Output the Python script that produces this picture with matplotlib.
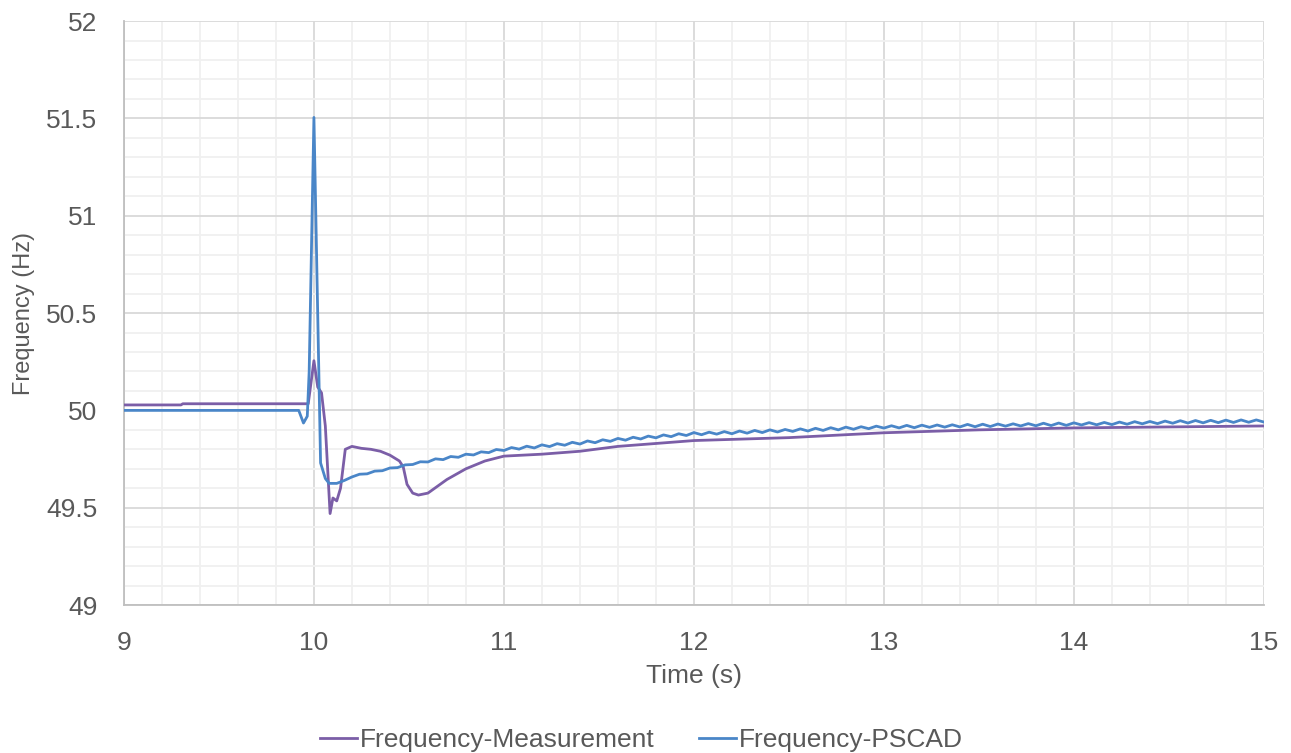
import numpy as np
import matplotlib.pyplot as plt
from matplotlib.ticker import MultipleLocator

plt.rcParams['font.family'] = ['Liberation Sans', 'DejaVu Sans']

# measured frequency (s, Hz)
meas_t = [9.00, 9.30, 9.31, 9.97, 10.00, 10.02, 10.04, 10.06, 10.085, 10.10,
          10.12, 10.14, 10.165, 10.20, 10.25, 10.30, 10.35, 10.40, 10.45, 10.47,
          10.49, 10.52, 10.55, 10.60, 10.65, 10.70, 10.80, 10.90, 11.00, 11.20,
          11.40, 11.60, 11.80, 12.00, 12.50, 13.00, 13.50, 14.00, 14.50, 15.00]
meas_f = [50.028, 50.028, 50.034, 50.034, 50.255, 50.12, 50.09, 49.92, 49.47, 49.55,
          49.535, 49.60, 49.80, 49.815, 49.805, 49.80, 49.79, 49.77, 49.74, 49.71,
          49.62, 49.575, 49.565, 49.575, 49.61, 49.645, 49.70, 49.74, 49.765, 49.775,
          49.79, 49.815, 49.83, 49.845, 49.86, 49.885, 49.90, 49.91, 49.915, 49.92]

# PSCAD simulation, event part
sim_t_event = [9.00, 9.92, 9.945, 9.965, 9.975, 10.00, 10.02, 10.035, 10.06, 10.08,
               10.12, 10.16]
sim_f_event = [50.000, 50.000, 49.935, 49.970, 50.200, 51.505, 50.50, 49.73, 49.65, 49.625,
               49.625, 49.64]

# PSCAD simulation, recovery part sampled every 0.04 s from 10.2 s
sim_t_tail = np.linspace(10.2, 15.0, 121)
sim_f_tail = [
    49.658, 49.672, 49.674, 49.688, 49.690, 49.704, 49.706, 49.720, 49.722, 49.736,
    49.735, 49.751, 49.747, 49.763, 49.759, 49.775, 49.771, 49.787, 49.783, 49.799,
    49.794, 49.809, 49.801, 49.816, 49.807, 49.823, 49.814, 49.829, 49.821, 49.836,
    49.827, 49.843, 49.834, 49.849, 49.841, 49.856, 49.847, 49.862, 49.853, 49.868,
    49.859, 49.874, 49.865, 49.880, 49.871, 49.886, 49.875, 49.888, 49.878, 49.891,
    49.880, 49.894, 49.883, 49.897, 49.886, 49.900, 49.889, 49.902, 49.892, 49.905,
    49.894, 49.908, 49.897, 49.911, 49.900, 49.914, 49.903, 49.916, 49.906, 49.919,
    49.909, 49.921, 49.910, 49.923, 49.911, 49.924, 49.913, 49.925, 49.914, 49.926,
    49.915, 49.928, 49.916, 49.929, 49.917, 49.930, 49.919, 49.931, 49.920, 49.932,
    49.921, 49.934, 49.922, 49.935, 49.923, 49.936, 49.925, 49.937, 49.926, 49.938,
    49.927, 49.940, 49.929, 49.942, 49.931, 49.943, 49.932, 49.945, 49.934, 49.947,
    49.935, 49.948, 49.936, 49.949, 49.937, 49.950, 49.938, 49.951, 49.939, 49.951,
    49.940]

sim_t = np.concatenate([sim_t_event, sim_t_tail])
sim_f = np.concatenate([sim_f_event, sim_f_tail])

grey = '#595959'

fig = plt.figure(figsize=(12.91, 7.53), dpi=100)
ax = fig.add_axes([0.096, 0.1965, 0.883, 0.7755])

ax.plot(meas_t, meas_f, color='#7B5EA7', lw=2.0, label='Frequency-Measurement', zorder=3)
ax.plot(sim_t, sim_f, color='#4A86C8', lw=2.0, label='Frequency-PSCAD', zorder=4)

ax.set_xlim(9, 15)
ax.set_ylim(49, 52)
ax.xaxis.set_major_locator(MultipleLocator(1))
ax.xaxis.set_minor_locator(MultipleLocator(0.2))
ax.yaxis.set_major_locator(MultipleLocator(0.5))
ax.yaxis.set_minor_locator(MultipleLocator(0.1))
ax.yaxis.set_major_formatter(plt.FuncFormatter(lambda v, p: f'{v:g}'))

ax.grid(which='major', color='#d9d9d9', lw=1.3)
ax.grid(which='minor', color='#f0f0f0', lw=1.3)
ax.set_axisbelow(True)

for s in ['top', 'right']:
    ax.spines[s].set_visible(False)
for s in ['left', 'bottom']:
    ax.spines[s].set_color('#bfbfbf')
    ax.spines[s].set_linewidth(1.3)

ax.tick_params(which='both', length=0, colors=grey, labelsize=19, pad=19)
ax.set_xlabel('Time (s)', fontsize=19, color=grey, labelpad=6)
ax.set_ylabel('Frequency (Hz)', fontsize=17, color=grey, labelpad=8)

fig.legend(loc='lower center', bbox_to_anchor=(0.497, -0.03), ncol=2, frameon=False,
           fontsize=19, labelcolor=grey, handlelength=1.4, handletextpad=0.1,
           columnspacing=1.7)

fig.savefig('out.png', dpi=100)
